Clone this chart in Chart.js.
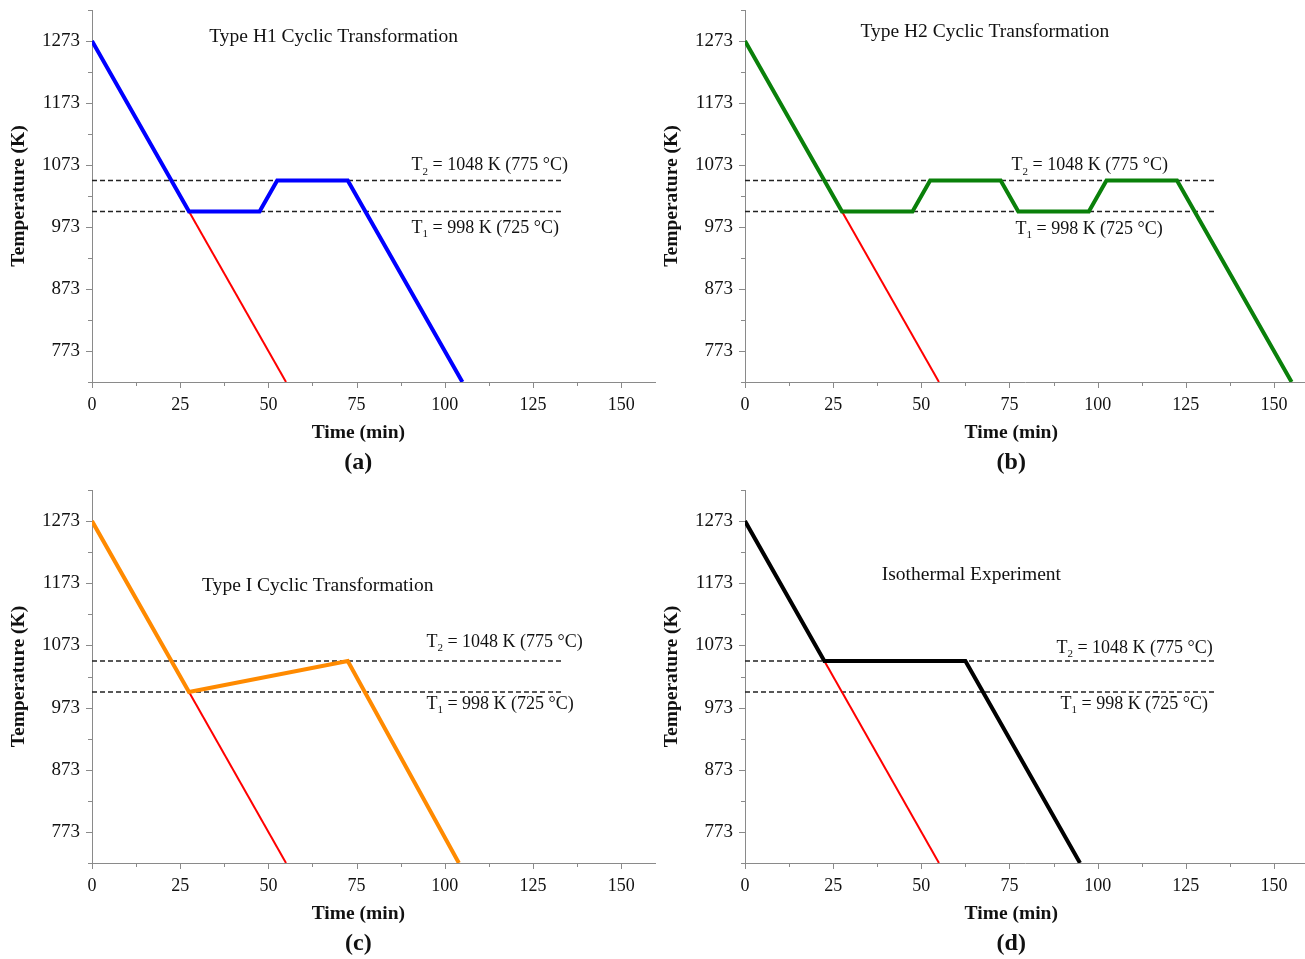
<!DOCTYPE html>
<html>
<head>
<meta charset="utf-8">
<title>Thermal cycles</title>
<script src="https://cdn.jsdelivr.net/npm/chart.js@4.4.0/dist/chart.umd.min.js"></script>
<style>
body { margin: 0; background: #fff; }
#wrap { position: relative; width: 1305px; height: 959px; overflow: hidden; }
canvas { position: absolute; }
</style>
</head>
<body>
<div id="wrap">
<canvas id="chartA" width="660" height="480" style="left:0;top:0"></canvas>
<canvas id="chartB" width="652" height="480" style="left:653px;top:0"></canvas>
<canvas id="chartC" width="660" height="479" style="left:0;top:480px"></canvas>
<canvas id="chartD" width="652" height="479" style="left:653px;top:480px"></canvas>
</div>
<script>
// temperature schedules, time in min, temperature in K
var time_h1 = [0, 27.5, 47.5, 52.5, 72.5, 105];
var temp_h1 = [1273, 998, 998, 1048, 1048, 723];

var time_h2 = [0, 27.5, 47.5, 52.5, 72.5, 77.5, 97.5, 102.5, 122.5, 155];
var temp_h2 = [1273, 998, 998, 1048, 1048, 998, 998, 1048, 1048, 723];

var time_i = [0, 27.5, 72.5, 104];
var temp_i = [1273, 998, 1048, 723];

var time_iso = [0, 22.5, 62.5, 95];
var temp_iso = [1273, 1048, 1048, 723];

// red continuous cooling branch
var time_quench = [27.5, 55];
var temp_quench = [998, 723];
var time_quench_iso = [22.5, 55];
var temp_quench_iso = [1048, 723];

// T1 / T2 reference lines
var t1 = 998;
var t2 = 1048;
var t_line_end = 133;

// axes
var x_labels = [0, 25, 50, 75, 100, 125, 150];
var y_labels = [773, 873, 973, 1073, 1173, 1273];
var y_min = 723, y_max = 1323;

var FONT = '"Liberation Serif", "Times New Roman", serif';
var AXIS_COLOR = '#8a8a8a';

function xy(xs, ys) {
	var out = [];
	for (var i = 0; i < xs.length; i++) out.push({x: xs[i], y: ys[i]});
	return out;
}

// tick marks outside the axes, minor ones shorter
var tickMarks = {
	id: 'tickMarks',
	afterDraw: function(chart) {
		var ctx = chart.ctx;
		var xs = chart.scales.x, ys = chart.scales.y;
		ctx.save();
		ctx.strokeStyle = AXIS_COLOR;
		ctx.lineWidth = 1;
		ctx.beginPath();
		xs.ticks.forEach(function(t) {
			var px = Math.round(xs.getPixelForValue(t.value)) + 0.5;
			var len = x_labels.indexOf(t.value) >= 0 ? 6 : 4;
			ctx.moveTo(px, xs.top);
			ctx.lineTo(px, xs.top + len);
		});
		ys.ticks.forEach(function(t) {
			var py = Math.round(ys.getPixelForValue(t.value)) + 0.5;
			var len = y_labels.indexOf(t.value) >= 0 ? 6 : 4;
			ctx.moveTo(ys.right, py);
			ctx.lineTo(ys.right - len, py);
		});
		ctx.stroke();
		ctx.restore();
	}
};

function t_label(ctx, x, y, sub, rest) {
	ctx.textAlign = 'left';
	ctx.textBaseline = 'middle';
	ctx.font = '18px ' + FONT;
	ctx.fillText('T', x, y);
	var w = ctx.measureText('T').width;
	ctx.font = '11px ' + FONT;
	ctx.fillText(sub, x + w, y + 6);
	var w2 = ctx.measureText(sub).width;
	ctx.font = '18px ' + FONT;
	ctx.fillText(rest, x + w + w2, y);
}

// panel title, T labels, x title and panel tag
var notes = {
	id: 'notes',
	afterDraw: function(chart, args, opts) {
		var ctx = chart.ctx;
		var xs = chart.scales.x, ys = chart.scales.y;
		ctx.save();
		ctx.fillStyle = '#111';
		ctx.textAlign = 'center';
		ctx.textBaseline = 'middle';
		ctx.font = '19.5px ' + FONT;
		ctx.fillText(opts.title, xs.getPixelForValue(opts.title_at[0]), ys.getPixelForValue(opts.title_at[1]));

		t_label(ctx, xs.getPixelForValue(opts.t2_at[0]), ys.getPixelForValue(opts.t2_at[1]), '2', ' = 1048 K (775 \u00B0C)');
		t_label(ctx, xs.getPixelForValue(opts.t1_at[0]), ys.getPixelForValue(opts.t1_at[1]), '1', ' = 998 K (725 \u00B0C)');

		var cx = xs.getPixelForValue(75.5);
		ctx.textAlign = 'center';
		ctx.font = 'bold 19.5px ' + FONT;
		ctx.fillText('Time (min)', cx, xs.top + 51);
		ctx.font = 'bold 24px ' + FONT;
		ctx.fillText(opts.tag, cx, xs.top + 81);
		ctx.restore();
	}
};

function create_chart(_id, _color, _data, _quench, _x_max, _pad_right, _x_height, _notes) {
	var ctx = document.getElementById(_id).getContext('2d');
	var config = {
		type: 'line',
		data: {
			datasets: [{
				data: _data,
				borderColor: _color,
				borderWidth: 4,
				pointRadius: 0,
				order: 0
			}, {
				data: _quench,
				borderColor: '#ff0000',
				borderWidth: 2,
				pointRadius: 0,
				order: 1
			}, {
				data: xy([0, t_line_end], [t2, t2]),
				borderColor: '#222',
				borderWidth: 1.4,
				borderDash: [5, 3],
				pointRadius: 0,
				order: 2
			}, {
				data: xy([0, t_line_end], [t1, t1]),
				borderColor: '#222',
				borderWidth: 1.4,
				borderDash: [5, 3],
				pointRadius: 0,
				order: 2
			}]
		},
		options: {
			responsive: false,
			animation: false,
			devicePixelRatio: 1,
			layout: {
				autoPadding: false,
				padding: {top: 10, right: _pad_right, left: 0, bottom: 0}
			},
			plugins: {
				legend: {display: false},
				tooltip: {enabled: false},
				notes: _notes
			},
			scales: {
				x: {
					type: 'linear',
					min: 0,
					max: _x_max,
					grid: {display: false, drawTicks: false},
					border: {display: true, color: AXIS_COLOR, width: 1},
					afterBuildTicks: function(scale) {
						var t = [];
						for (var v = 0; v <= 150; v += 12.5) t.push({value: v});
						scale.ticks = t;
					},
					afterFit: function(scale) {
						scale.height = _x_height;
						scale.paddingLeft = 0;
						scale.paddingRight = 0;
					},
					ticks: {
						autoSkip: false,
						maxRotation: 0,
						padding: 12,
						color: '#111',
						font: {family: FONT, size: 18},
						callback: function(v) { return x_labels.indexOf(v) >= 0 ? String(v) : ''; }
					}
				},
				y: {
					min: y_min,
					max: y_max,
					grid: {display: false, drawTicks: false},
					border: {display: true, color: AXIS_COLOR, width: 1},
					afterBuildTicks: function(scale) {
						var t = [];
						for (var v = y_min; v <= y_max; v += 50) t.push({value: v});
						scale.ticks = t;
					},
					afterFit: function(scale) {
						scale.width = 92;
						scale.paddingTop = 0;
						scale.paddingBottom = 0;
					},
					title: {
						display: true,
						text: 'Temperature (K)',
						color: '#111',
						font: {family: FONT, size: 19.5, weight: 'bold'},
						padding: {top: 7, bottom: 0}
					},
					ticks: {
						autoSkip: false,
						padding: 12,
						color: '#111',
						font: {family: FONT, size: 19},
						callback: function(v) { return y_labels.indexOf(v) >= 0 ? String(v) : ''; }
					}
				}
			}
		},
		plugins: [tickMarks, notes]
	};
	return new Chart(ctx, config);
}

create_chart('chartA', '#0000ff', xy(time_h1, temp_h1), xy(time_quench, temp_quench), 159.6, 5, 98,
	{title: 'Type H1 Cyclic Transformation', title_at: [68.5, 1279], t2_at: [90.6, 1072], t1_at: [90.6, 971], tag: '(a)'});
create_chart('chartB', '#0a800a', xy(time_h2, temp_h2), xy(time_quench, temp_quench), 158.8, 0, 98,
	{title: 'Type H2 Cyclic Transformation', title_at: [68, 1287], t2_at: [75.6, 1072], t1_at: [76.7, 970], tag: '(b)'});
create_chart('chartC', '#ff8a00', xy(time_i, temp_i), xy(time_quench, temp_quench), 159.6, 5, 96,
	{title: 'Type I Cyclic Transformation', title_at: [64, 1168], t2_at: [94.8, 1078], t1_at: [94.8, 978], tag: '(c)'});
create_chart('chartD', '#000000', xy(time_iso, temp_iso), xy(time_quench_iso, temp_quench_iso), 158.8, 0, 96,
	{title: 'Isothermal Experiment', title_at: [64.2, 1186], t2_at: [88.3, 1068], t1_at: [89.5, 978], tag: '(d)'});
</script>
</body>
</html>
